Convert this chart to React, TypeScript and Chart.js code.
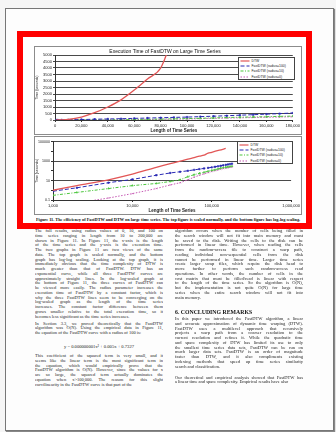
import React, { useEffect, useRef } from "react";
import { Chart, registerables } from "chart.js";

Chart.register(...registerables);

// ---------- data ----------
const seriesNames = ["DTW", "FastDTW (radius=100)", "FastDTW (radius=10)", "FastDTW (radius=0)"];

const dtwLengths = [1000, 2000, 5000, 10000, 20000, 30000, 40000, 50000, 60000, 70000, 80000, 90000, 100000, 125000, 150000];
const dtwTimes = [1, 3, 12, 45, 230, 560, 1000, 1550, 2300, 3150, 4000, 6500, 8000, 13000, 20000];

const fastLengths = [1000, 2000, 5000, 10000, 20000, 30000, 40000, 50000, 60000, 70000, 80000, 90000, 100000, 110000, 120000, 130000, 140000, 150000, 160000, 170000, 180000];
const fastRadius100 = [0.8, 1.8, 6, 13, 35, 60, 80, 100, 125, 150, 175, 200, 225, 260, 290, 330, 370, 410, 450, 490, 540];
const fastRadius10 = [0.3, 0.6, 1.5, 3, 5, 8, 12, 25, 40, 55, 70, 90, 110, 130, 160, 190, 215, 235, 255, 280, 300];
const fastRadius0 = [0.02, 0.05, 0.16, 0.45, 1.5, 3.5, 6, 12, 22, 35, 50, 65, 85, 105, 125, 150, 170, 190, 210, 230, 250];

const topXTicks = [0, 20000, 40000, 60000, 80000, 100000, 120000, 140000, 160000, 180000];
const topYTicks = [0, 500, 1000, 1500, 2000, 2500, 3000, 3500, 4000, 4500, 5000];
const bottomXTicks = [1000, 10000, 100000, 1000000];
const bottomYTicks = [0.1, 1, 10, 100, 1000, 10000, 100000];
const bottomYLabeled = [0.1, 10, 1000, 100000];

const chartTitle = "Execution Time of FastDTW on Large Time Series";
const xTitle = "Length of Time Series";
const yTitle = "Time (seconds)";

const caption =
  "Figure 11. The efficiency of FastDTW and DTW on large time series.  The top figure is scaled normally, and the bottom figure has log-log scaling.";

const leftPara1 = [
  "The full results, using radius values of 0, 10, and 100 on",
  "time series ranging in length from 10 to 200,000 are",
  "shown in Figure 11. In Figure 11, the x-axis is the length",
  "of the time series and the y-axis is the execution time.",
  "The two graphs in Figure 11 are two views of the same",
  "data. The top graph is scaled normally, and the bottom",
  "graph has log-log scaling. Looking at the top graph, it is",
  "immediately obvious that the time complexity of DTW is",
  "much greater than that of FastDTW. DTW has an",
  "exponential curve, while all three FastDTW curves are",
  "approximately straight lines. In the log-scaled graph at",
  "the bottom of Figure 11, the three curves of FastDTW can",
  "be viewed more easily. The radius parameter increases the",
  "execution time of FastDTW by a constant factor, which is",
  "why the three FastDTW lines seem to be converging on the",
  "log-scaled graph as the length of the time series",
  "increases. The constant factor difference between them",
  "grows smaller relative to the total execution time, so it",
  "becomes less significant as the time series increases.",
];
const leftPara2 = [
  "In Section 3.3, we proved theoretically that the FastDTW",
  "algorithm was O(N). Using the empirical data in Figure 11,",
  "the equation of the FastDTW curve with a radius of 100 is:",
];
const equation = "y = 0.000000001x\u00B2 + 0.005x + 0.7327";
const leftPara3 = [
  "This coefficient of the squared term is very small, and it",
  "seems like the linear term is the most significant term in",
  "the equation, which would empirically prove that the",
  "FastDTW algorithm is O(N). However, since the values for x",
  "are so large, the squared term actually dominates the",
  "equation when x>100,000. The reason for this slight",
  "curvilinearity in the FastDTW curve is that part of the",
];
const rightPara1 = [
  "algorithm occurs when the number of cells being filled in",
  "the search window will not fit into main memory and must",
  "be saved to the disk. Writing the cells to the disk can be",
  "performed in linear time. However, when reading the cells",
  "from the random-access file to construct a warp path,",
  "reading individual non-sequential cells from the disk",
  "cannot be performed in linear time. Larger time series",
  "create larger swap files, which require the disk head to",
  "move further to perform such random-access read",
  "operations. In other words, the number of cells in the",
  "cost matrix that must be filled/read is linear with respect",
  "to the length of the time series. So the algorithm is O(N),",
  "but the implementation is not quite O(N) for large time",
  "series when the entire search window will not fit into",
  "main memory.",
];
const heading = "6. CONCLUDING REMARKS";
const rightPara2 = [
  "In this paper we introduced the FastDTW algorithm, a linear",
  "and accurate approximation of dynamic time warping (DTW).",
  "FastDTW uses a multilevel approach that recursively",
  "projects a warp path from a coarser resolution to the",
  "current resolution and refines it. While the quadratic time",
  "and space complexity of DTW has limited its use to only",
  "the smallest time series data sets, FastDTW can be run on",
  "much larger data sets. FastDTW is an order of magnitude",
  "faster than DTW, and it also compliments existing",
  "indexing methods that speed up time series similarity",
  "search and classification.",
];
const rightPara3 = [
  "Our theoretical and empirical analysis showed that FastDTW has",
  "a linear time and space complexity. Empirical results have also",
];

// ---------- styles ----------
const seriesColors = ["#e25656", "#2a2ab4", "#4cc63e", "#c65ab4"];
const seriesDashes: number[][] = [[], [4, 2], [3, 1.5, 1, 1.5], [1.5, 1.5]];
const seriesPoints = [false, "rect", "triangle", "crossRot"] as any[];
const SANS = "'Liberation Sans', Arial, sans-serif";
const SERIF = "'Liberation Serif', 'Times New Roman', serif";
const LH = 4.75;
const TEXT = "#1e1e1e";

const commas = (v: number) => String(v).replace(/\B(?=(\d{3})+(?!\d))/g, ",");

function buildDatasets() {
  const fast = [fastRadius100, fastRadius10, fastRadius0];
  const ds: any[] = [
    {
      label: seriesNames[0],
      data: dtwLengths.map((x, i) => ({ x, y: dtwTimes[i] })),
      borderColor: seriesColors[0],
      backgroundColor: seriesColors[0],
      borderWidth: 1.3,
      pointRadius: 0,
      cubicInterpolationMode: "monotone",
    },
  ];
  fast.forEach((vals, k) => {
    ds.push({
      label: seriesNames[k + 1],
      data: fastLengths.map((x, i) => ({ x, y: vals[i] })),
      borderColor: seriesColors[k + 1],
      backgroundColor: seriesColors[k + 1],
      borderWidth: 1,
      borderDash: seriesDashes[k + 1],
      pointRadius: 1,
      pointStyle: seriesPoints[k + 1],
      pointBorderWidth: 0.6,
    });
  });
  return ds;
}

const tickFont = { size: 4, family: SANS };

function TopChart() {
  const ref = useRef<HTMLCanvasElement>(null);
  useEffect(() => {
    const chart = new Chart(ref.current as HTMLCanvasElement, {
      type: "line",
      data: { datasets: buildDatasets() },
      options: {
        animation: false,
        responsive: false,
        devicePixelRatio: 1,
        events: [],
        layout: { padding: { left: 0, right: 6, top: 0, bottom: 1 } },
        plugins: {
          legend: { display: false },
          tooltip: { enabled: false },
          title: {
            display: true,
            text: chartTitle,
            color: "#111",
            font: { size: 5, family: SANS, weight: "normal" },
            padding: { top: 2, bottom: 0 },
          },
        },
        scales: {
          x: {
            type: "linear",
            min: 0,
            max: 180000,
            afterBuildTicks: (s: any) => {
              s.ticks = topXTicks.map((v) => ({ value: v }));
            },
            afterFit: (s: any) => {
              s.height = 13;
            },
            ticks: {
              font: tickFont,
              color: "#222",
              padding: 1,
              maxRotation: 0,
              autoSkip: false,
              callback: (v: any) => commas(Number(v)),
            },
            grid: { drawOnChartArea: false, tickLength: 2, color: "#333" },
            border: { color: "#333" },
            title: {
              display: true,
              text: xTitle,
              color: "#222",
              font: { size: 4.5, family: SANS, weight: "bold" },
              padding: 0,
            },
          },
          y: {
            type: "linear",
            min: 0,
            max: 5000,
            afterBuildTicks: (s: any) => {
              s.ticks = topYTicks.map((v) => ({ value: v }));
            },
            afterFit: (s: any) => {
              s.width = 20;
            },
            ticks: { font: tickFont, color: "#222", padding: 1, autoSkip: false, callback: (v: any) => String(v) },
            grid: { color: "#4a4a4a", tickLength: 2, lineWidth: 1 },
            border: { color: "#333" },
            title: {
              display: true,
              text: yTitle,
              color: "#222",
              font: { size: 3.5, family: SANS },
              padding: 0,
            },
          },
        },
      } as any,
    });
    return () => chart.destroy();
  }, []);
  return <canvas ref={ref} width={266} height={87} style={{ display: "block", width: 266, height: 87 }} />;
}

function BottomChart() {
  const ref = useRef<HTMLCanvasElement>(null);
  useEffect(() => {
    const chart = new Chart(ref.current as HTMLCanvasElement, {
      type: "line",
      data: { datasets: buildDatasets() },
      options: {
        animation: false,
        responsive: false,
        devicePixelRatio: 1,
        events: [],
        layout: { padding: { left: 0, right: 8, top: 3, bottom: 1 } },
        plugins: {
          legend: { display: false },
          tooltip: { enabled: false },
          title: { display: false },
        },
        scales: {
          x: {
            type: "logarithmic",
            min: 1000,
            max: 1000000,
            afterBuildTicks: (s: any) => {
              s.ticks = bottomXTicks.map((v) => ({ value: v }));
            },
            afterFit: (s: any) => {
              s.height = 13;
            },
            ticks: {
              font: tickFont,
              color: "#222",
              padding: 1,
              maxRotation: 0,
              autoSkip: false,
              callback: (v: any) => commas(Number(v)),
            },
            grid: { drawOnChartArea: false, tickLength: 2, color: "#333" },
            border: { color: "#333" },
            title: {
              display: true,
              text: xTitle,
              color: "#222",
              font: { size: 4.5, family: SANS, weight: "bold" },
              padding: 0,
            },
          },
          y: {
            type: "logarithmic",
            min: 0.1,
            max: 100000,
            afterBuildTicks: (s: any) => {
              s.ticks = bottomYTicks.map((v) => ({ value: v }));
            },
            afterFit: (s: any) => {
              s.width = 18;
            },
            ticks: {
              font: { size: 3.6, family: SANS },
              color: "#222",
              padding: 1,
              autoSkip: false,
              callback: (v: any) => (bottomYLabeled.includes(Number(v)) ? String(v) : ""),
            },
            grid: {
              tickLength: 2,
              lineWidth: 1,
              color: (c: any) =>
                c.tick && bottomYLabeled.includes(c.tick.value) ? "#4a4a4a" : "rgba(0,0,0,0)",
              tickColor: "#333",
            },
            border: { color: "#333" },
            title: {
              display: true,
              text: yTitle,
              color: "#222",
              font: { size: 3.5, family: SANS },
              padding: 0,
            },
          },
        },
      } as any,
    });
    return () => chart.destroy();
  }, []);
  return <canvas ref={ref} width={266} height={77} style={{ display: "block", width: 266, height: 77 }} />;
}

function Legend({ left, top, width, height }: { left: number; top: number; width: number; height: number }) {
  return (
    <div
      style={{
        position: "absolute",
        left,
        top,
        width,
        height,
        boxSizing: "border-box",
        border: "1px solid #444",
        background: "#fff",
        padding: "0.5px 1px",
        fontFamily: SANS,
        fontSize: 3.4,
        color: "#222",
      }}
    >
      {seriesNames.map((n, i) => (
        <div key={n} style={{ display: "flex", alignItems: "center", height: 5.2, whiteSpace: "nowrap" }}>
          <svg width={10} height={4} style={{ flex: "none" }}>
            <line
              x1={0.5}
              y1={2}
              x2={9.5}
              y2={2}
              stroke={seriesColors[i]}
              strokeWidth={1.2}
              strokeDasharray={seriesDashes[i].join(" ")}
            />
          </svg>
          <span style={{ marginLeft: 1.5 }}>{n}</span>
        </div>
      ))}
    </div>
  );
}

function Para({ lines, left, start, width }: { lines: string[]; left: number; start: number; width: number }) {
  return (
    <>
      {lines.map((t, i) => (
        <div
          key={i}
          style={{
            position: "absolute",
            left,
            top: start + i * LH - LH / 2,
            width,
            height: LH,
            lineHeight: `${LH}px`,
            fontSize: 4.5,
            fontFamily: SERIF,
            color: TEXT,
            textAlign: "justify",
            textAlignLast: i === lines.length - 1 ? "left" : "justify",
            overflow: "hidden",
          }}
        >
          {t}
        </div>
      ))}
    </>
  );
}

export default function App() {
  return (
    <div style={{ position: "absolute", left: 0, top: 0, width: 336, height: 432, background: "#f6f6f6", overflow: "hidden" }}>
      {/* page */}
      <div
        style={{
          position: "absolute",
          left: 5,
          top: 8,
          width: 327,
          height: 421,
          background: "#fdfdfd",
          border: "1px solid #777",
          boxShadow: "1px 1px 1px #888",
        }}
      />
      {/* red frame */}
      <div
        style={{
          position: "absolute",
          left: 17,
          top: 31,
          width: 295,
          height: 198,
          boxSizing: "border-box",
          border: "6px solid #ff0000",
          background: "#fff",
        }}
      />
      {/* top chart */}
      <div style={{ position: "absolute", left: 34, top: 46, width: 266, height: 87, border: "1px solid #8c8c8c", background: "#fff" }}>
        <TopChart />
      </div>
      <Legend left={238} top={57} width={57} height={23} />
      {/* bottom chart */}
      <div style={{ position: "absolute", left: 34, top: 136, width: 266, height: 77, border: "1px solid #8c8c8c", background: "#fff" }}>
        <BottomChart />
      </div>
      <Legend left={237} top={141} width={56} height={23} />
      {/* caption */}
      <div
        style={{
          position: "absolute",
          left: 36,
          top: 217,
          width: 266,
          height: 5,
          lineHeight: "5px",
          fontSize: 4.3,
          fontWeight: "bold",
          fontFamily: SERIF,
          color: "#111",
          whiteSpace: "nowrap",
          overflow: "hidden",
        }}
      >
        {caption}
      </div>
      {/* body text */}
      <Para lines={leftPara1} left={35} start={231.5} width={128} />
      <Para lines={leftPara2} left={35} start={324} width={128} />
      <div
        style={{
          position: "absolute",
          left: 35,
          top: 343.5,
          width: 128,
          textAlign: "center",
          fontSize: 4.6,
          lineHeight: "5px",
          fontFamily: SERIF,
          color: TEXT,
        }}
      >
        {equation}
      </div>
      <Para lines={leftPara3} left={35} start={356.5} width={128} />
      <Para lines={rightPara1} left={175} start={231.5} width={128} />
      <div
        style={{
          position: "absolute",
          left: 175,
          top: 308.5,
          width: 128,
          fontSize: 5.8,
          lineHeight: "6px",
          fontWeight: "bold",
          fontFamily: SERIF,
          color: "#111",
          whiteSpace: "nowrap",
        }}
      >
        {heading}
      </div>
      <Para lines={rightPara2} left={175} start={319.5} width={128} />
      <Para lines={rightPara3} left={175} start={378} width={128} />
    </div>
  );
}
